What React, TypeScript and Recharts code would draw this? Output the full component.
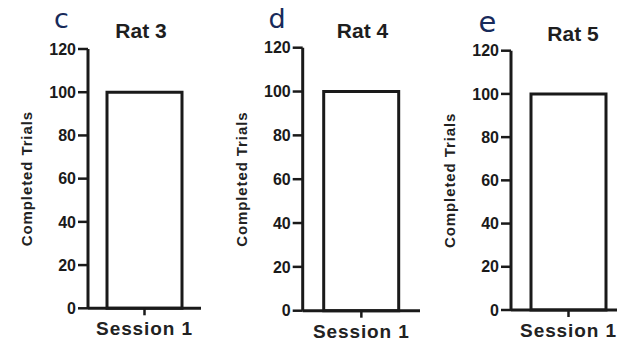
import React from "react";
import { BarChart, Bar, XAxis, YAxis, Label } from "recharts";

// ---- data ----
const categories = ["Session 1"];
const rat3Trials = [100];
const rat4Trials = [100];
const rat5Trials = [100];
const yTicks = [0, 20, 40, 60, 80, 100, 120];
const panelLetters = ["c", "d", "e"];
const panelTitles = ["Rat 3", "Rat 4", "Rat 5"];
const yAxisTitle = "Completed Trials";

const seriesList = [rat3Trials, rat4Trials, rat5Trials];

// ---- layout (pixels) ----
const FONT = "'Liberation Sans', Arial, Helvetica, sans-serif";
const INK = "#1a1a1a";
const panels = [
  { left: 0, axisX: 88, plotW: 113, top: 49, bottom: 308.3 },
  { left: 200, axisX: 102.7, plotW: 117.3, top: 47.7, bottom: 310.7 },
  { left: 410, axisX: 101, plotW: 115, top: 50.7, bottom: 310 },
];
const titles = [
  { x: 141, y: 38 },
  { x: 362.5, y: 38 },
  { x: 573, y: 40.5 },
];
const letters = [
  { x: 61.5, y: 28, size: 27 },
  { x: 277, y: 28, size: 27 },
  { x: 487.5, y: 31.5, size: 29 },
];

const YLabel = (props: any) => {
  const vb = props.viewBox || {};
  const cx = vb.x + vb.width - 61;
  const cy = vb.y + vb.height / 2;
  return (
    <text
      x={cx}
      y={cy}
      transform={`rotate(-90 ${cx} ${cy})`}
      textAnchor="middle"
      dominantBaseline="central"
      fontFamily={FONT}
      fontWeight="bold"
      fontSize={15}
      letterSpacing={0.9}
      fill="#222222"
    >
      {yAxisTitle}
    </text>
  );
};

function Panel({ idx }: { idx: number }) {
  const p = panels[idx];
  const values = seriesList[idx];
  const data = categories.map((c, i) => ({ session: c, trials: values[i] }));
  const xAxisH = 30;
  const width = p.axisX + p.plotW;
  const height = 342;
  return (
    <div style={{ position: "absolute", left: p.left, top: 0 }}>
      <BarChart
        width={width}
        height={height}
        data={data}
        margin={{ top: p.top, right: 0, left: 0, bottom: height - p.bottom - xAxisH }}
        barCategoryGap="16%"
      >
        <XAxis
          dataKey="session"
          type="category"
          height={xAxisH}
          axisLine={{ stroke: INK, strokeWidth: 3 }}
          tickLine={{ stroke: INK, strokeWidth: 2.5 }}
          tickSize={7}
          tickMargin={6.5}
          tick={{ fill: "#222222", fontSize: 19, fontWeight: "bold", fontFamily: FONT, letterSpacing: 0.9 }}
        />
        <YAxis
          type="number"
          domain={[0, 120]}
          ticks={yTicks}
          width={p.axisX}
          axisLine={{ stroke: INK, strokeWidth: 3 }}
          tickLine={{ stroke: INK, strokeWidth: 2.5 }}
          tickSize={10}
          tickMargin={2}
          interval={0}
          tick={{ fill: "#1a1a1a", fontSize: 16, fontWeight: "bold", fontFamily: FONT }}
        >
          <Label content={<YLabel />} />
        </YAxis>
        <Bar
          dataKey="trials"
          fill="#ffffff"
          stroke={INK}
          strokeWidth={3}
          barSize={75}
          isAnimationActive={false}
        />
      </BarChart>
    </div>
  );
}

export default function App() {
  return (
    <div
      style={{
        position: "absolute",
        left: 0,
        top: 0,
        width: 617,
        height: 342,
        overflow: "hidden",
        background: "#ffffff",
      }}
    >
      {panels.map((_, i) => (
        <Panel key={i} idx={i} />
      ))}
      <svg
        width={617}
        height={342}
        style={{ position: "absolute", left: 0, top: 0, pointerEvents: "none" }}
      >
        {panelTitles.map((t, i) => (
          <text
            key={"t" + i}
            x={titles[i].x}
            y={titles[i].y}
            textAnchor="middle"
            fontFamily={FONT}
            fontWeight="bold"
            fontSize={21}
            fill="#1e1e1e"
          >
            {t}
          </text>
        ))}
        {panelLetters.map((l, i) => (
          <text
            key={"l" + i}
            x={letters[i].x}
            y={letters[i].y}
            textAnchor="middle"
            fontFamily="'DejaVu Sans', sans-serif"
            fontSize={letters[i].size}
            fill="#172a5a"
          >
            {l}
          </text>
        ))}
      </svg>
    </div>
  );
}
